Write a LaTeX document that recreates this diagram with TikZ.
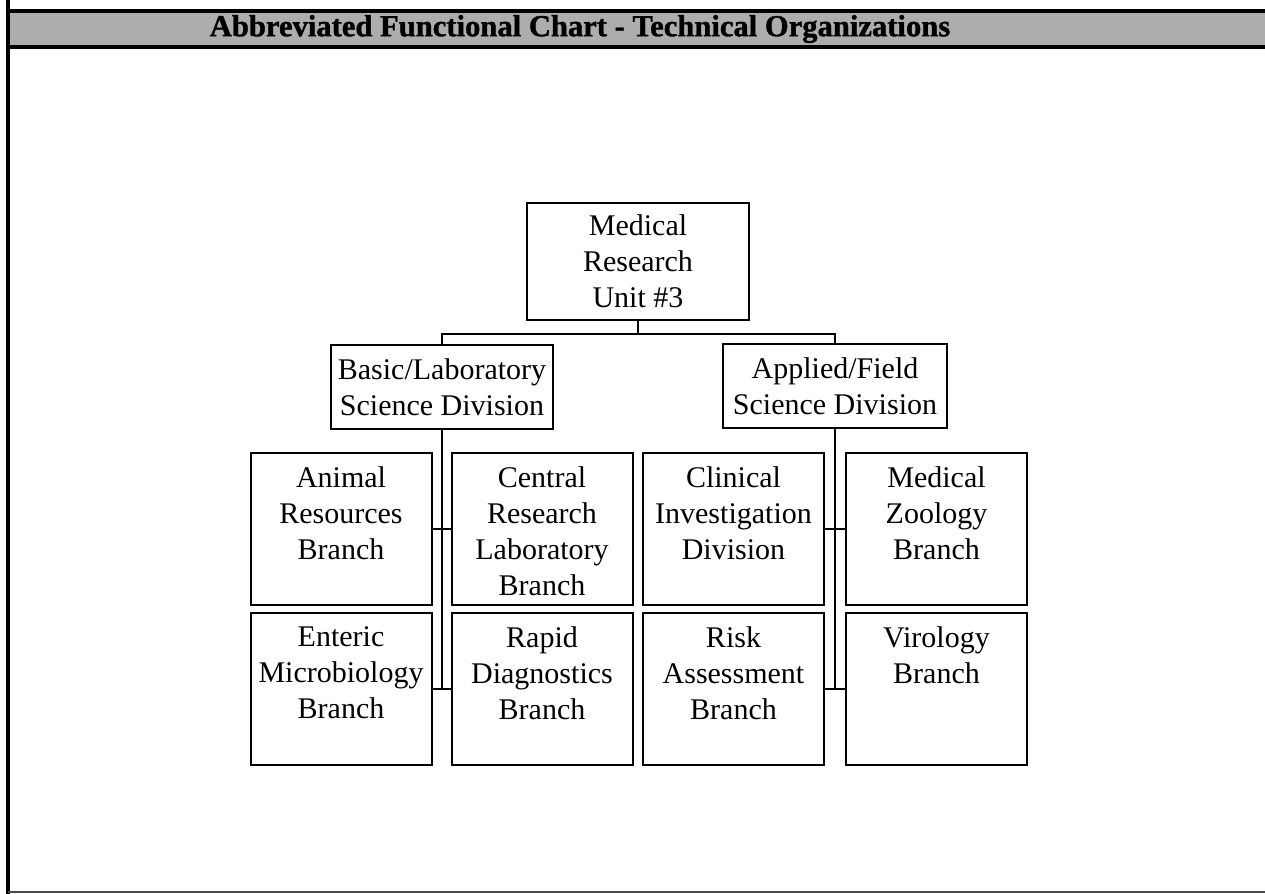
\documentclass[tikz,border=0pt]{standalone}
\usepackage{fontspec}
\setmainfont{Liberation Serif}
\newfontfamily\headfont[FakeBold=1.2]{Liberation Serif}

\begin{document}
\begin{tikzpicture}[x=0.5pt,y=-0.5pt,line width=1pt,
  every node/.style={font=\fontsize{15}{18}\selectfont},
  unit/.style={draw,line width=1pt,align=center,inner sep=0pt},
  branch/.style={unit,minimum width=90.5pt,minimum height=76pt},
  txt/.style={anchor=north,align=center,inner sep=0pt,yshift=-7pt}]
  \useasboundingbox (0,0) rectangle (1265,894);
  % frame and title bar
  \fill[black!32] (10,11) rectangle (1265,47);
  \draw[line width=1.6pt] (10,11) -- (1265,11);
  \draw[line width=1.6pt] (10,47) -- (1265,47);
  \draw[line width=2pt] (8,0) -- (8,894);
  \draw[line width=0.7pt,black!70] (8,892) -- (1265,892);
  \node[font=\fontsize{15.3}{18}\headfont\bfseries] (T) at (580,29)
    {Abbreviated Functional Chart - Technical Organizations};
  % top levels
  \node[unit,minimum width=111pt,minimum height=58.5pt] (M) at (638,261.5)
    {Medical\\Research\\Unit \#3};
  \node[unit,minimum width=111pt,minimum height=42pt] (B) at (442,387)
    {Basic/Laboratory\\Science Division};
  \node[unit,minimum width=112pt,minimum height=42pt] (A) at (835,386)
    {Applied/Field\\Science Division};
  % branches
  \node[branch] (An) at (341,529) {};
  \node[branch] (Ce) at (542,529) {};
  \node[branch] (Cl) at (733.5,529) {};
  \node[branch] (Zo) at (936.5,529) {};
  \node[branch] (En) at (341,689) {};
  \node[branch] (Ra) at (542,689) {};
  \node[branch] (Ri) at (733.5,689) {};
  \node[branch] (Vi) at (936.5,689) {};
  \node[txt] at (An.north) {Animal\\Resources\\Branch};
  \node[txt] at (Ce.north) {Central\\Research\\Laboratory\\Branch};
  \node[txt] at (Cl.north) {Clinical\\Investigation\\Division};
  \node[txt] at (Zo.north) {Medical\\Zoology\\Branch};
  \node[txt] at (En.north) {Enteric\\Microbiology\\Branch};
  \node[txt] at (Ra.north) {Rapid\\Diagnostics\\Branch};
  \node[txt] at (Ri.north) {Risk\\Assessment\\Branch};
  \node[txt] at (Vi.north) {Virology\\Branch};
  % connectors
  \draw (M.south) -- ++(0,13) coordinate (J);
  \draw (J) -| (B.north);
  \draw (J) -| (A.north);
  \draw (B.south) |- (En.east);
  \draw (B.south) |- (Ra.west);
  \draw (An.east) -- (Ce.west);
  \draw (A.south) |- (Ri.east);
  \draw (A.south) |- (Vi.west);
  \draw (Cl.east) -- (Zo.west);
\end{tikzpicture}
\end{document}
